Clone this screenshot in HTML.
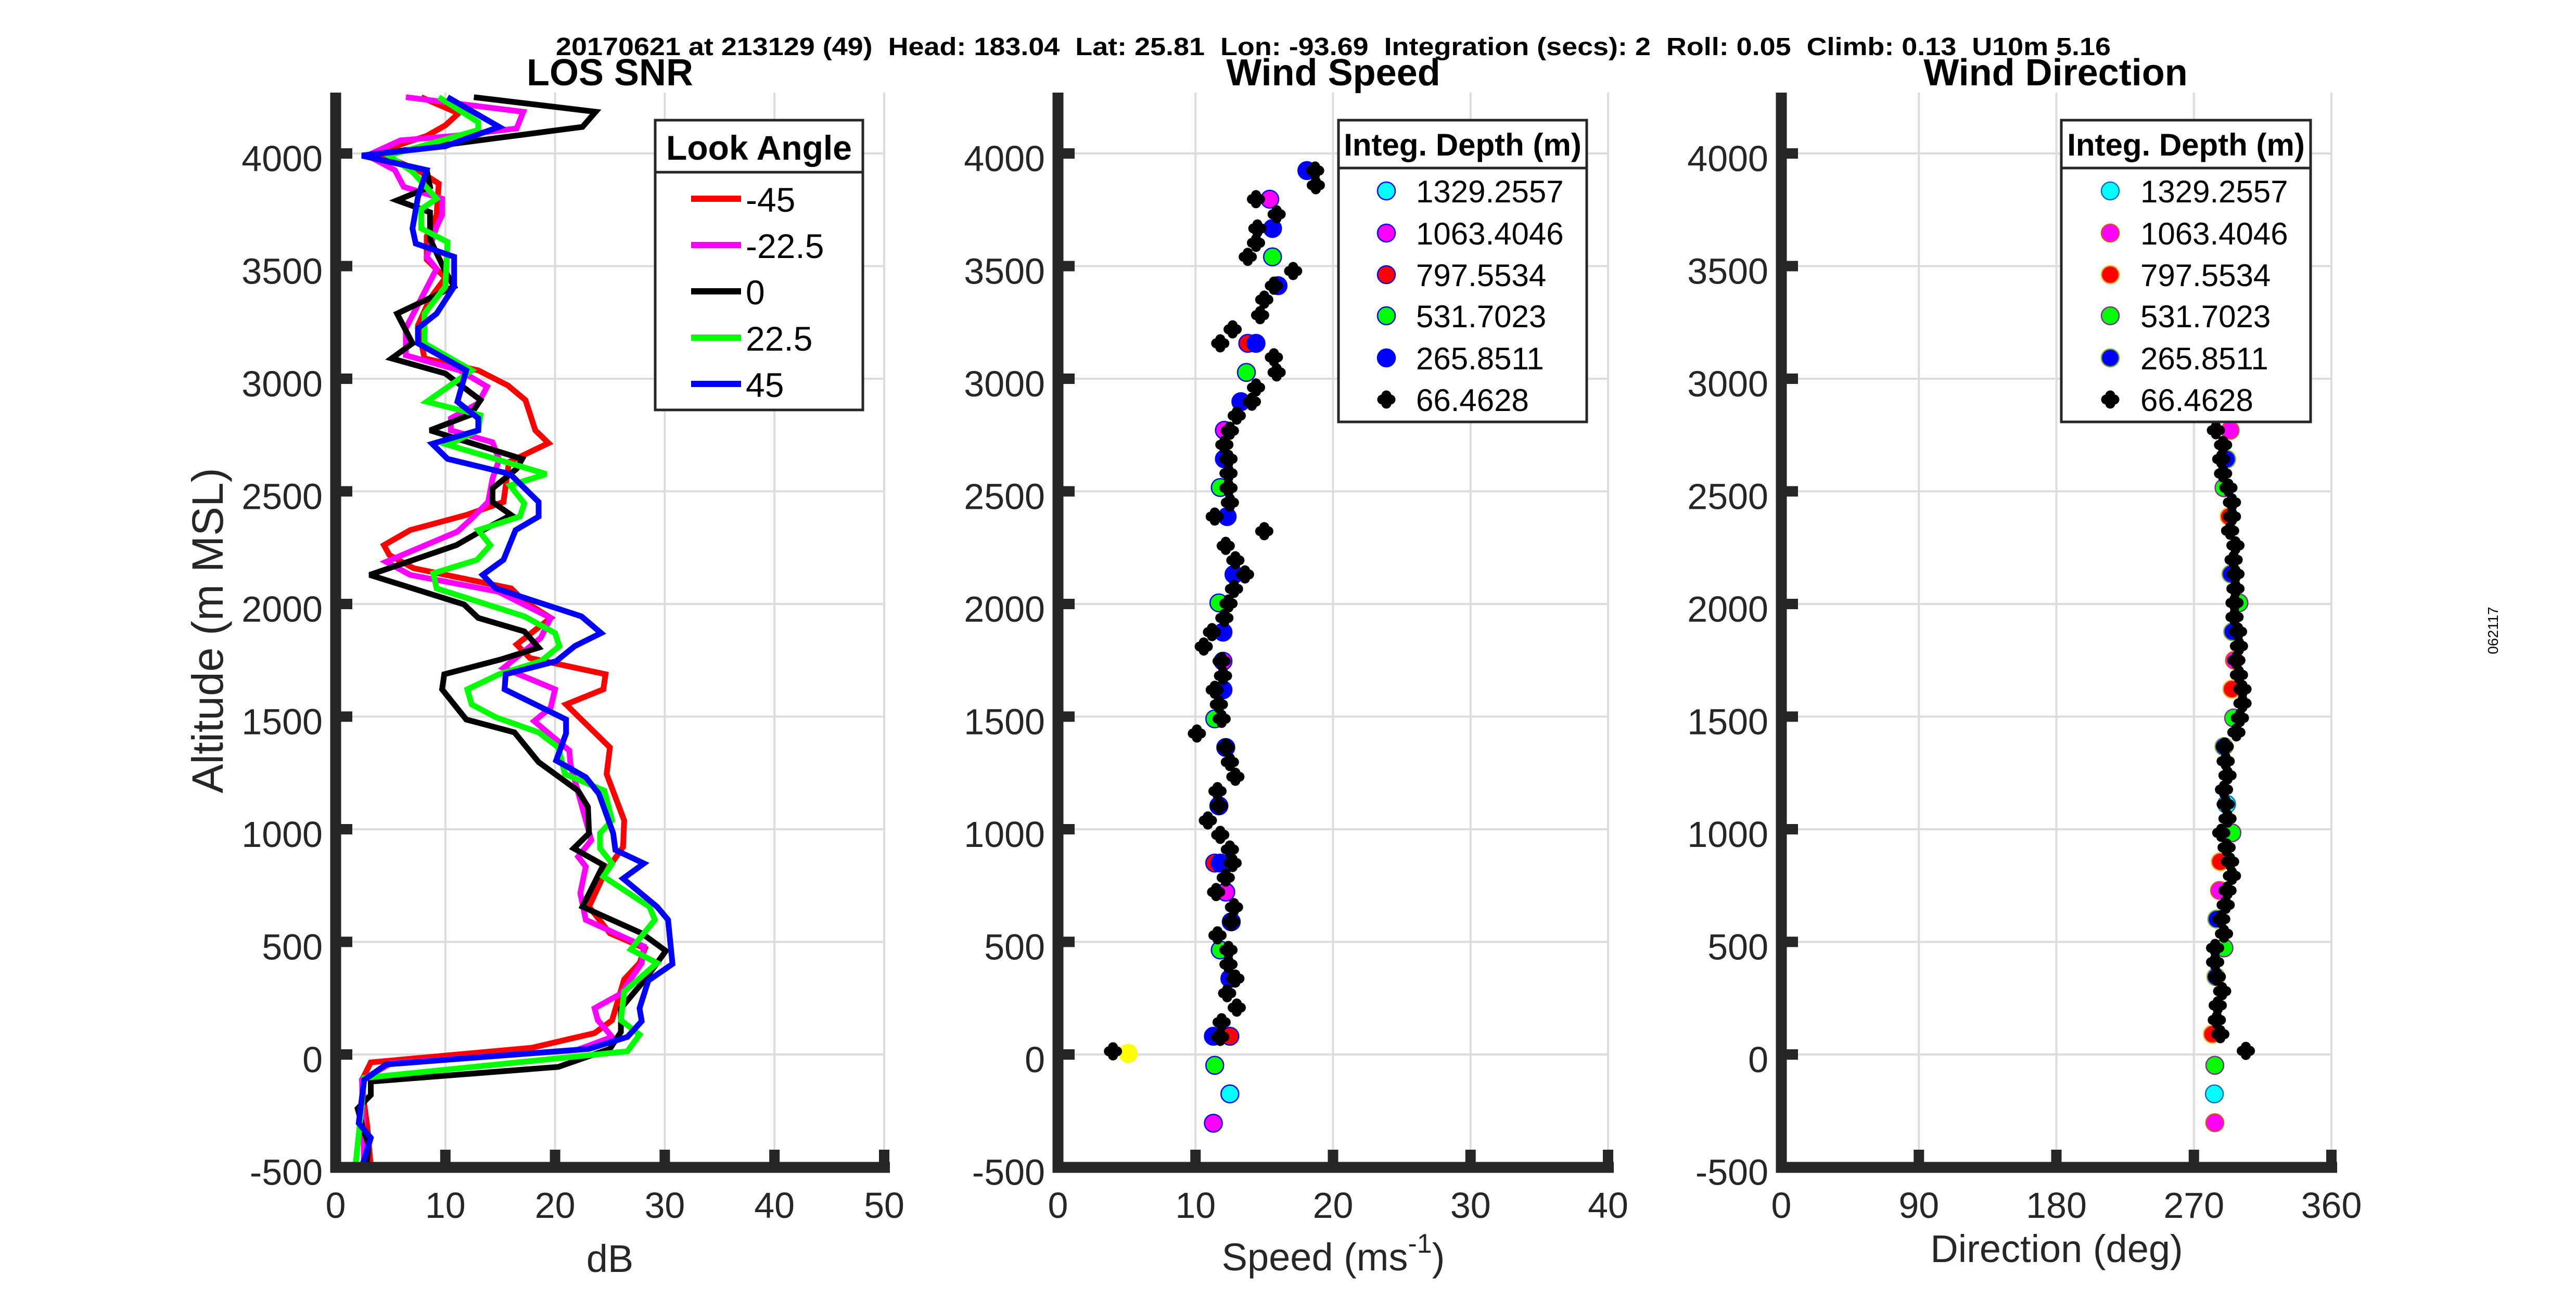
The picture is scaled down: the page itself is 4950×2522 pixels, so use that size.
<!DOCTYPE html>
<html><head><meta charset="utf-8">
<style>
html,body{margin:0;padding:0;background:#fff;}
svg{display:block;}
text{font-family:"Liberation Sans",Arial,sans-serif;}
</style></head>
<body>
<svg id="fig" width="4950" height="2522" viewBox="0 0 4950 2522" xmlns="http://www.w3.org/2000/svg">
<rect width="4950" height="2522" fill="#fff"/>
<text x="1068" y="106" font-size="48" font-weight="bold" textLength="2988" lengthAdjust="spacingAndGlyphs" fill="#000" style="white-space:pre" xml:space="preserve">20170621 at 213129 (49)  Head: 183.04  Lat: 25.81  Lon: -93.69  Integration (secs): 2  Roll: 0.05  Climb: 0.13  U10m 5.16</text>
<text x="1172" y="164" font-size="72" font-weight="bold" text-anchor="middle">LOS SNR</text>
<text x="2562" y="164" font-size="72" font-weight="bold" text-anchor="middle">Wind Speed</text>
<text x="3950" y="164" font-size="72" font-weight="bold" text-anchor="middle">Wind Direction</text>
<text transform="translate(428,1212) rotate(-90)" font-size="84" text-anchor="middle" fill="#262626">Altitude (m MSL)</text>
<text x="1172" y="2445" font-size="74" text-anchor="middle" fill="#262626">dB</text>
<text x="2562" y="2442" font-size="74" text-anchor="middle" fill="#262626">Speed (ms<tspan font-size="52" dy="-34">-1</tspan><tspan dy="34">)</tspan></text>
<text x="3952" y="2426" font-size="74" text-anchor="middle" fill="#262626">Direction (deg)</text>
<text transform="translate(4800,1212) rotate(-90)" font-size="28" text-anchor="middle" fill="#000">062117</text>
<g id="layer"></g>
</svg>
<script>
// ---------- data ----------
const snrBlackAlt=[4250,4185,4118,3990,3926,3852,3792,3739,3620,3476,3409,3289,3157,3090,3023,2905,2840,2771,2644,2600,2513,2453,2395,2314,2261,2129,1998,1938,1878,1806,1753,1688,1621,1487,1430,1298,1171,1099,982,915,841,656,538,460,333,205,100,25,-55,-120,-180,-240,-330,-400,-497];
const snrBlackDb=[12.6,23.7,22.5,2.4,8.3,8.6,5.6,8.6,8.6,10.0,10.8,5.6,7.0,5.1,10,13.2,12.3,8.6,17.0,16.5,14.3,14.3,16.0,12.9,11.0,3.1,11.7,13.0,17.2,18.5,15.0,9.9,9.7,11.9,16.3,18.5,22.1,23.0,23.1,21.7,24.4,22.5,27.9,30.1,28.2,26.0,26,25.0,20.3,3.2,3.2,2.0,2.5,3,2.8];
const snrRedAlt=[4250,4178,4125,4078,4032,3991,3926,3866,3727,3632,3529,3448,3356,3236,3090,3037,2970,2905,2771,2714,2630,2453,2395,2328,2261,2217,2159,2069,2012,1938,1820,1760,1688,1621,1554,1363,1245,1039,921,804,656,538,471,406,333,152,95,30,-35,-113,-219,-326,-497];
const snrRedDb=[7.8,11.2,10.0,8.3,5.4,4.3,7.5,9.4,9.2,8.3,8.3,10,8.6,7.5,8.1,13.0,15.7,17.3,18.2,19.4,15.8,15.3,11.9,6.8,4.4,4.9,7.1,16.0,17.2,19.6,16.5,17.7,24.6,24.4,21.0,25.0,24.7,26.3,26.2,24.5,23.1,25.0,28.2,27.7,26.3,25.2,23.6,17.9,3.2,2.4,2.6,2.9,3.2];
const snrMagAlt=[4250,4185,4111,4078,4058,3991,3926,3852,3799,3727,3674,3541,3488,3356,3224,3104,3037,2965,2891,2824,2771,2718,2640,2556,2453,2379,2321,2187,2129,2055,1938,1850,1716,1621,1540,1480,1349,1289,951,878,834,716,598,480,406,270,205,152,78,20,-40,-113,-497];
const snrMagDb=[6.4,17.1,16.5,10.8,5.9,2.9,5.4,6.2,9.7,9.7,9.2,8.3,9.2,7.8,6.4,6.4,11.3,13.8,13.0,10.5,10.5,14.3,14.9,14.3,13.9,12.4,11.1,4.6,6.8,14.8,19.6,18.7,15.3,20.0,19.6,18.1,21.3,21.4,23.3,22.1,22.8,22.3,22.8,28.1,27.9,26.0,23.6,23.9,25.2,22,5,2.4,2.6];
const snrGreenAlt=[4250,4139,4104,3991,3919,3799,3753,3667,3607,3409,3289,3157,3037,2898,2838,2771,2707,2577,2526,2446,2388,2328,2261,2196,2136,2069,1945,1871,1813,1746,1688,1621,1554,1497,1430,1363,1245,1171,1039,982,915,848,790,656,598,466,406,279,152,88,14,-104,-219,-497];
const snrGreenDb=[9.4,13.0,13,4.8,7.0,9.2,7.8,7.8,10.2,10.0,8.1,8.1,12.4,8.3,13.2,13.0,10.2,19.2,15.9,17.2,16.8,13.0,14.1,12.9,8.9,9.2,17.2,20.0,20.4,18.7,14.9,12.0,12.4,14.6,18.5,20.3,20.9,24.5,25.2,24.1,24.1,25.2,24.4,28.6,29.1,26.9,29.3,26.3,26.0,27.7,26.6,2.6,2.4,1.8];
const snrBlueAlt=[4250,4118,4032,3991,3926,3806,3667,3600,3541,3409,3289,3224,3157,3037,2898,2824,2771,2711,2644,2577,2453,2388,2328,2196,2129,2069,1945,1871,1813,1746,1688,1621,1487,1425,1305,1231,1157,982,908,848,781,656,598,402,328,205,148,78,25,-44,-113,-305,-370,-497];
const snrBlueDb=[10.2,14.9,10.0,2.4,8.3,7.5,7.0,7.3,10.8,10.8,9.2,7.5,7.5,11.9,11.1,13.0,13,8.8,10.2,15.9,18.5,18.5,16.4,15.3,13.4,14.6,22.4,24.2,21.8,20.1,15.5,15.4,21.0,21.0,20.1,22.8,24.0,25.3,25.5,28.1,26.2,29.3,30.3,30.7,28.5,27.7,27.9,26.6,23.1,4.6,2.6,2.1,3.2,2.4];
const snrNames=["-45","-22.5","0","22.5","45"];

const spdBlackAlt=[3924,3859,3797,3730,3667,3603,3541,3478,3413,3351,3282,3219,3157,3095,3028,2961,2898,2836,2769,2707,2644,2580,2515,2450,2388,2323,2258,2194,2131,2067,2002,1938,1875,1811,1746,1681,1619,1554,1490,1425,1363,1298,1233,1169,1104,1039,975,910,850,785,721,654,589,529,464,400,337,272,208,143,78,14];
const spdBlackVal=[18.7,18.75,14.4,15.9,14.5,14.4,13.8,17.1,15.7,15.0,14.7,12.7,11.8,15.7,15.9,14.4,14.1,13.0,12.5,12.1,12.4,12.4,12.4,12.5,11.4,15.0,12.2,12.9,13.6,12.8,12.4,12.1,11.2,10.6,11.9,12.0,11.4,11.7,11.9,10.1,12.2,12.5,12.9,11.6,11.7,10.9,11.8,12.5,12.7,12.2,11.5,12.8,12.6,11.6,12.4,12.4,12.9,12.3,13.0,11.9,11.8,4.0];
const spdCyanAlt=[1104,-175];
const spdCyanVal=[11.7,12.5];
const spdMagAlt=[3797,2771,1746,721,-305];
const spdMagVal=[15.4,12.1,12.0,12.2,11.3];
const spdRedAlt=[3157,850,81];
const spdRedVal=[13.8,11.4,12.5];
const spdGreenAlt=[3541,3028,2517,2005,1490,464,-48];
const spdGreenVal=[15.6,13.7,11.8,11.7,11.4,11.8,11.4];
const spdBlueAlt=[3924,3667,3413,3157,2898,2644,2388,2131,1875,1619,1363,1104,850,589,337,81];
const spdBlueVal=[18.1,15.6,16.0,14.4,13.3,12.1,12.3,12.8,12.0,12.0,12.2,11.7,11.8,12.6,12.5,11.3];
const spdYellowAlt=[5];
const spdYellowVal=[5.1];

const dirBlackAlt=[2771,2706,2643,2579,2516,2451,2388,2325,2260,2196,2133,2068,2005,1942,1877,1813,1750,1685,1622,1559,1494,1430,1367,1302,1239,1176,1111,1047,984,919,856,793,728,664,601,536,473,410,345,281,218,153,90,16];
const dirBlackVal=[284.4,289.1,287.9,289.1,292.6,294.9,294.9,293.7,297.2,296.0,297.2,297.2,296.6,296.6,298.9,299.5,297.8,299.5,301.8,301.8,300.1,297.8,290.2,290.8,292.0,289.7,290.8,292.0,287.9,291.4,293.7,294.9,292.0,290.8,287.9,289.7,283.9,283.9,285.0,288.5,285.6,285.0,287.3,304];
const dirCyanAlt=[1111,-175];
const dirCyanVal=[291.4,283.4];
const dirMagAlt=[2771,1750,728,-303];
const dirMagVal=[293.7,296.6,286.8,283.7];
const dirRedAlt=[2388,1622,856,90];
const dirRedVal=[293.1,294.9,287.3,282.1];
const dirGreenAlt=[2516,2005,1494,984,473,-48];
const dirGreenVal=[289.7,299.5,296,294.9,289.7,283.7];
const dirBlueAlt=[2643,2133,1877,1367,601,345];
const dirBlueVal=[291.4,294.3,295.4,289.7,285,284.4];
const depthNames=["1329.2557","1063.4046","797.5534","531.7023","265.8511","66.4628"];

// ---------- drawing ----------
const NS="http://www.w3.org/2000/svg";
const layer=document.getElementById('layer');
function mk(tag,attrs,parent){const e=document.createElementNS(NS,tag);for(const k in attrs)e.setAttribute(k,attrs[k]);(parent||layer).appendChild(e);return e;}
const yTop=178,yBot=2244;
function yS(a){return 2027-a*0.433;}
const altTicks=[-500,0,500,1000,1500,2000,2500,3000,3500,4000];
const panels=[
 {key:'snr',x0:645,x1:1699,min:0,max:50,ticks:[0,10,20,30,40,50]},
 {key:'speed',x0:2033,x1:3090,min:0,max:40,ticks:[0,10,20,30,40]},
 {key:'direction',x0:3423,x1:4480,min:0,max:360,ticks:[0,90,180,270,360]}
];
panels.forEach(p=>{p.x=v=>p.x0+(v-p.min)/(p.max-p.min)*(p.x1-p.x0);});
panels.forEach(p=>{
 const g=mk('g',{});
 
 
 p.ticks.forEach(t=>{const l=mk('line',{x1:p.x(t),x2:p.x(t),y1:yTop,y2:yBot,stroke:'#dcdcdc','stroke-width':4},g);
  });
 altTicks.forEach(a=>{const l=mk('line',{x1:p.x0,x2:p.x1,y1:yS(a),y2:yS(a),stroke:'#dcdcdc','stroke-width':4},g);
  });
 p.g=g;
});
function finishAxes(p){
 const g=mk('g',{});
 
 
 const ls=mk('line',{x1:p.x0,x2:p.x0,y1:yTop,y2:yBot+10,stroke:'#262626','stroke-width':21},g);
 
 const bs=mk('line',{x1:p.x0-10,x2:p.x1+11,y1:yBot,y2:yBot,stroke:'#262626','stroke-width':21},g);
 
 altTicks.forEach(a=>{
  const tk=mk('line',{x1:p.x0,x2:p.x0+32,y1:yS(a),y2:yS(a),stroke:'#262626','stroke-width':20},g);
  
  const tl=mk('text',{x:p.x0-25,y:yS(a)+34,'font-size':70,'text-anchor':'end',fill:'#262626'},g);
  tl.textContent=String(a);
  
 });
 p.ticks.forEach(t=>{
  const tk=mk('line',{x1:p.x(t),x2:p.x(t),y1:yBot,y2:yBot-34,stroke:'#262626','stroke-width':20},g);
  
  const tl=mk('text',{x:p.x(t),y:2341,'font-size':70,'text-anchor':'middle',fill:'#262626'},g);
  tl.textContent=String(t);
  
 });
}
// SNR lines
const P1=panels[0];
const snrSeries=[[snrRedAlt,snrRedDb,'#ff0000','snr-line-minus45'],[snrMagAlt,snrMagDb,'#ff00ff','snr-line-minus22'],[snrBlackAlt,snrBlackDb,'#000000','snr-line-0'],[snrGreenAlt,snrGreenDb,'#00ff00','snr-line-22'],[snrBlueAlt,snrBlueDb,'#0000ff','snr-line-45']];
snrSeries.forEach(s=>{
 const pts=s[0].map((a,i)=>P1.x(s[1][i]).toFixed(1)+','+yS(a).toFixed(1)).join(' ');
 const pl=mk('polyline',{points:pts,fill:'none',stroke:s[2],'stroke-width':11,'stroke-linejoin':'miter','stroke-miterlimit':3});
 
 
});
function circle(parent,cx,cy,fill,edge,name){
 const c=mk('ellipse',{cx:cx,cy:cy,rx:17,ry:17,fill:fill,stroke:edge,'stroke-width':2.5},parent);
 
 
}
function cross(parent,cx,cy,name){
 const d=`M${cx-8},${cy}H${cx+8}M${cx},${cy-8}V${cy+8}`;
 const c=mk('path',{d:d,stroke:'#000','stroke-width':19,'stroke-linecap':'round',fill:'none'},parent);
 
 
}
function scatter(p,groups,blackA,blackV,pref){
 groups.forEach(gr=>{gr[0].forEach((a,i)=>circle(layer,p.x(gr[1][i]),yS(a),gr[2],gr[3],pref+'-point-'+gr[4]));});
 blackA.forEach((a,i)=>cross(layer,p.x(blackV[i]),yS(a),pref+'-point-66m'));
}
const P2=panels[1],P3=panels[2];
scatter(P2,[[spdCyanAlt,spdCyanVal,'#00ffff','#0000ff','1329m'],[spdMagAlt,spdMagVal,'#ff00ff','#0000ff','1063m'],[spdRedAlt,spdRedVal,'#ff0000','#0000ff','797m'],[spdGreenAlt,spdGreenVal,'#00ff00','#0000ff','531m'],[spdBlueAlt,spdBlueVal,'#0000ff','#0000ff','265m'],[spdYellowAlt,spdYellowVal,'#ffff00','#ffff00','surface']],spdBlackAlt,spdBlackVal,'speed');
scatter(P3,[[dirCyanAlt,dirCyanVal,'#00ffff','#0070c0','1329m'],[dirMagAlt,dirMagVal,'#ff00ff','#d95319','1063m'],[dirRedAlt,dirRedVal,'#ff0000','#edb120','797m'],[dirGreenAlt,dirGreenVal,'#00ff00','#7e2f8e','531m'],[dirBlueAlt,dirBlueVal,'#0000ff','#77ac30','265m']],dirBlackAlt,dirBlackVal,'direction');
panels.forEach(finishAxes);

// legends
function box(x0,y0,x1,y1,div,title,fs,name){
 const g=mk('g',{});
 
 
 mk('rect',{x:x0,y:y0,width:x1-x0,height:y1-y0,fill:'#fff',stroke:'#262626','stroke-width':5},g);
 mk('line',{x1:x0,x2:x1,y1:div,y2:div,stroke:'#262626','stroke-width':5},g);
 const t=mk('text',{x:(x0+x1)/2,y:div-24,'font-size':fs,'font-weight':'bold','text-anchor':'middle',fill:'#000'},g);
 t.textContent=title;
 
 return g;
}
const lg1=box(1259,231,1658,788,331,'Look Angle',66,'snr-legend');
const lgY=[382,471,560,649,738];
const lgCol=['#ff0000','#ff00ff','#000000','#00ff00','#0000ff'];
snrNames.forEach((n,i)=>{
 const l=mk('line',{x1:1328,x2:1424,y1:lgY[i],y2:lgY[i],stroke:lgCol[i],'stroke-width':12},lg1);
 
 const t=mk('text',{x:1433,y:lgY[i]+25,'font-size':66,fill:'#000'},lg1);
 t.textContent=n;
 
});
const dY=[367,448,528,607,688,768];
function depthLegend(x0,x1,mx,tx,edges,name){
 const g=box(x0,231,x1,811,323,'Integ. Depth (m)',60,name);
 const fills=['#00ffff','#ff00ff','#ff0000','#00ff00','#0000ff'];
 depthNames.forEach((n,i)=>{
  if(i<5) circle(g,mx,dY[i],fills[i],edges[i],'legend-marker');
  else cross(g,mx,dY[i],'legend-marker');
  const t=mk('text',{x:tx,y:dY[i]+22,'font-size':60,fill:'#000'},g);
  t.textContent=n;
  
 });
}
depthLegend(2572,3049,2664,2721,['#0000ff','#0000ff','#0000ff','#0000ff','#0000ff'],'speed-legend');
depthLegend(3961,4440,4055,4113,['#0070c0','#d95319','#edb120','#7e2f8e','#77ac30'],'direction-legend');
</script>
</body></html>
